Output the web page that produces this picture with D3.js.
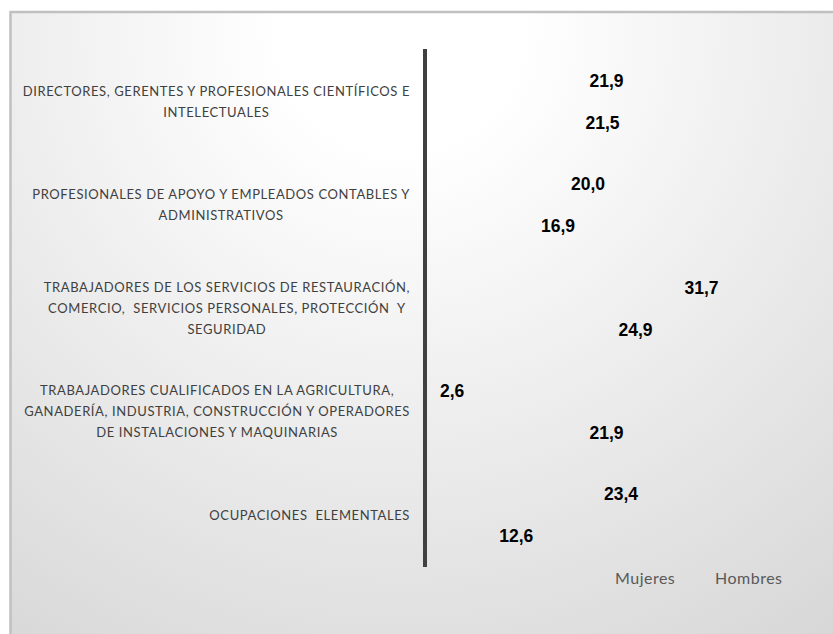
<!DOCTYPE html>
<html>
<head>
<meta charset="utf-8">
<script src="https://d3js.org/d3.v7.min.js"></script>
<style>
    body { margin: 0; background: #ffffff; }
    svg { display: block; }
</style>
</head>
<body>
<div id="vis"></div>
<script>
// Chart data
var categories = [
    "DIRECTORES, GERENTES Y PROFESIONALES CIENTÍFICOS E",
    "PROFESIONALES DE APOYO Y EMPLEADOS CONTABLES Y",
    "TRABAJADORES DE LOS SERVICIOS DE RESTAURACIÓN,",
    "TRABAJADORES CUALIFICADOS EN LA AGRICULTURA,",
    "OCUPACIONES  ELEMENTALES"
];
var categoryLines = [
    ["DIRECTORES, GERENTES Y PROFESIONALES CIENTÍFICOS E", "INTELECTUALES"],
    ["PROFESIONALES DE APOYO Y EMPLEADOS CONTABLES Y", "ADMINISTRATIVOS"],
    ["TRABAJADORES DE LOS SERVICIOS DE RESTAURACIÓN,", "COMERCIO,  SERVICIOS PERSONALES, PROTECCIÓN  Y", "SEGURIDAD"],
    ["TRABAJADORES CUALIFICADOS EN LA AGRICULTURA,", "GANADERÍA, INDUSTRIA, CONSTRUCCIÓN Y OPERADORES", "DE INSTALACIONES Y MAQUINARIAS"],
    ["OCUPACIONES  ELEMENTALES"]
];
var seriesNames = ["Mujeres", "Hombres"];
var mujeres = [21.9, 20.0, 31.7, 2.6, 23.4];
var hombres = [21.5, 16.9, 24.9, 21.9, 12.6];

(function() {
    var width = 833,
        height = 634;

    var plot = { top: 50, bottom: 567, axisX: 425 };

    var svg = d3.select("#vis").append("svg")
        .attr("width", width)
        .attr("height", height);

    // Background gradient (light centre at the top, grey towards the edges)
    var defs = svg.append("defs");
    var grad = defs.append("radialGradient")
        .attr("id", "bg")
        .attr("gradientUnits", "userSpaceOnUse")
        .attr("cx", 400).attr("cy", 30).attr("r", 790);
    grad.append("stop").attr("offset", "0").attr("stop-color", "#ffffff");
    grad.append("stop").attr("offset", "0.15").attr("stop-color", "#ffffff");
    grad.append("stop").attr("offset", "1").attr("stop-color", "#d4d4d4");

    svg.append("rect")
        .attr("x", 10.5).attr("y", 12)
        .attr("width", 840).attr("height", 640)
        .attr("fill", "url(#bg)")
        .attr("stroke", "#c0c0c0")
        .attr("stroke-width", 2.5);

    // Scales
    var y = d3.scaleBand()
        .domain(categories)
        .range([plot.top, plot.bottom]);

    var bw = y.bandwidth();
    var ySub = d3.scaleBand()
        .domain(seriesNames)
        .range([bw / 2 - 42, bw / 2 + 42]);

    var x = d3.scaleLinear()
        .domain([0, 35])
        .range([373, 712.5]);

    var rows = [];
    categories.forEach(function(c, i) {
        rows.push({ cat: c, i: i, series: "Mujeres", value: mujeres[i] });
        rows.push({ cat: c, i: i, series: "Hombres", value: hombres[i] });
    });

    // Bars (no fill in the original)
    svg.append("g")
        .selectAll("rect")
        .data(rows)
        .enter().append("rect")
        .attr("x", x(0))
        .attr("y", function(d) { return y(d.cat) + ySub(d.series); })
        .attr("width", function(d) { return x(d.value) - x(0); })
        .attr("height", ySub.bandwidth() * 0.8)
        .attr("fill", "none");

    // Value labels
    svg.append("g")
        .selectAll("text")
        .data(rows)
        .enter().append("text")
        .attr("x", function(d) { return Math.max(x(d.value) + 4, plot.axisX + 15); })
        .attr("y", function(d) { return y(d.cat) + ySub(d.series) + ySub.bandwidth() / 2; })
        .attr("dy", "0.35em")
        .style("font-family", "'Liberation Sans', Arial, sans-serif")
        .style("font-weight", "bold")
        .style("font-size", "17.5px")
        .attr("fill", "#000")
        .text(function(d) { return d3.format(".1f")(d.value).replace(".", ","); });

    // Category axis line
    svg.append("line")
        .attr("x1", plot.axisX).attr("x2", plot.axisX)
        .attr("y1", plot.top - 1).attr("y2", plot.bottom)
        .attr("stroke", "#404040")
        .attr("stroke-width", 4);

    // Category labels: block right aligned, lines centred in the block
    var labelRight = 410;
    var catFont = "Lato, 'Open Sans', sans-serif";
    var catG = svg.append("g");
    categories.forEach(function(c, i) {
        var lines = categoryLines[i];
        var g = catG.append("g");
        var lineH = 21;
        var cy = y(c) + bw / 2;
        var texts = g.selectAll("text")
            .data(lines)
            .enter().append("text")
            .attr("y", function(d, j) { return cy + (j - (lines.length - 1) / 2) * lineH; })
            .attr("dy", "0.35em")
            .style("font-family", catFont)
            .style("font-size", "13px")
            .style("letter-spacing", "0.6px")
            .style("white-space", "pre")
            .attr("fill", "#404040")
            .attr("text-anchor", "middle")
            .text(function(d) { return d; });
        var maxW = 0;
        texts.each(function() { maxW = Math.max(maxW, this.getComputedTextLength()); });
        texts.attr("x", labelRight - maxW / 2);
    });

    // Legend (swatches have no fill)
    var legend = svg.append("g")
        .attr("transform", "translate(0,578)");
    var legendX = [603, 703];
    seriesNames.forEach(function(s, i) {
        legend.append("rect")
            .attr("x", legendX[i]).attr("y", -4)
            .attr("width", 8).attr("height", 8)
            .attr("fill", "none");
        legend.append("text")
            .attr("x", legendX[i] + 12)
            .attr("dy", "0.35em")
            .style("font-family", catFont)
            .style("font-size", "16px")
            .style("letter-spacing", "0.5px")
            .attr("fill", "#595959")
            .text(s);
    });
})();
</script>
</body>
</html>
